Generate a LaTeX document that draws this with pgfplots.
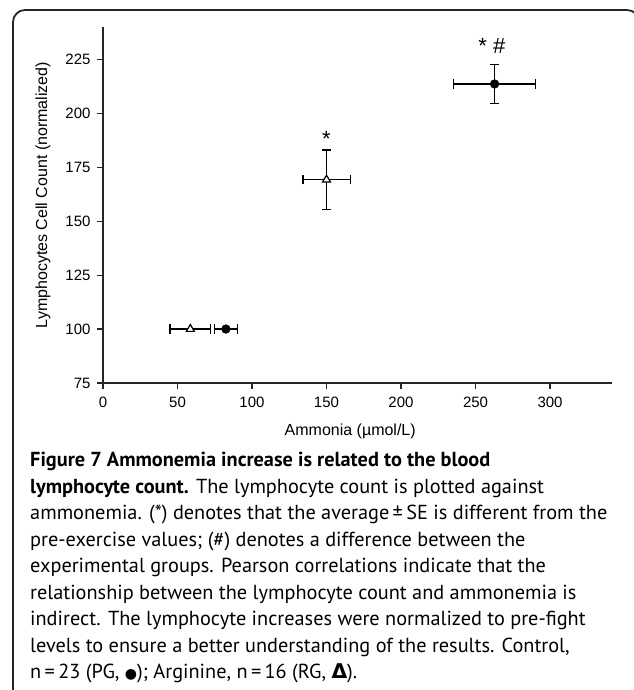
\documentclass[border=0pt]{standalone}
\usepackage{pgfplots}
\pgfplotsset{compat=1.18}
\usepackage{fontspec}
\setmainfont{Liberation Sans}
\newfontfamily\capfont{PT Sans}
\newfontfamily\symfont{DejaVu Sans}
\begin{document}
\begin{tikzpicture}
\useasboundingbox (0pt,0pt) rectangle (633pt,690pt);
% frame
\draw[line width=1.8pt, black!85, rounded corners=12pt] (13pt,-30pt) -- (13pt,680pt) -- (639pt,680pt) -- (639pt,-30pt);
\begin{axis}[
  at={(103pt,307pt)}, anchor=south west,
  scale only axis, width=508.7pt, height=356pt,
  xmin=0, xmax=341.4, ymin=75, ymax=240,
  axis lines=left,
  axis line style={-, line width=1.4pt, black!85},
  xtick={0,50,...,300}, ytick={75,100,...,225},
  tick align=outside, major tick length=6pt,
  tick style={line width=1.2pt, black!85},
  /pgf/number format/assume math mode=true,
  tick label style={font=\fontsize{15}{17}\selectfont},
  xticklabel style={yshift=-4pt},
  yticklabel style={xshift=-3pt},
  label style={font=\fontsize{16}{18}\selectfont},
  xlabel={Ammonia (µmol/L)},
  ylabel={Lymphocytes Cell Count (normalized)},
  xlabel style={at={(axis description cs:0.486,0)}, anchor=center, yshift=-48pt},
  ylabel style={at={(axis description cs:-0.118,0.528)}, anchor=center},
  clip=false,
  error bars/error bar style={line width=1.4pt, black},
  error bars/error mark options={rotate=90, line width=1.4pt, black, mark size=4.6pt},
]
% Arginine (RG, triangle)
\addplot[only marks, mark=triangle*, mark size=4.6pt, mark options={fill=white, draw=black, line width=1.2pt},
  error bars/.cd, x dir=both, x explicit, y dir=both, y explicit]
  table[x=x, y=y, x error=ex, y error=ey] {
x y ex ey
58.6 100 13.7 0
150 169.2 15.9 13.7
};
% Control (PG, circle)
\addplot[only marks, mark=*, mark size=4.4pt, mark options={fill=black, draw=black},
  error bars/.cd, x dir=both, x explicit, y dir=both, y explicit]
  table[x=x, y=y, x error=ex, y error=ey] {
x y ex ey
82.5 100 7.8 0
262.8 213.6 27.5 9.1
};
\node[anchor=base, font=\fontsize{22}{24}\selectfont] at (axis cs:150,184.5) {*};
\node[anchor=base, font=\fontsize{22}{24}\selectfont] at (axis cs:261,227.5) {* \#};
\end{axis}
% caption
\begin{scope}[every node/.style={anchor=base west, inner sep=0pt, font=\capfont\fontsize{20.3}{24}\selectfont}]
\node at (30pt,223pt) {\bfseries Figure 7 Ammonemia increase is related to the blood};
\node at (30pt,196.5pt) {\textbf{lymphocyte count.} The lymphocyte count is plotted against};
\node at (30pt,170pt) {ammonemia. (*) denotes that the average\,±\,SE is different from the};
\node at (30pt,143.5pt) {pre-exercise values; (\#) denotes a difference between the};
\node at (30pt,117pt) {experimental groups. Pearson correlations indicate that the};
\node at (30pt,90.5pt) {relationship between the lymphocyte count and ammonemia is};
\node at (30pt,64pt) {indirect. The lymphocyte increases were normalized to pre-fight};
\node at (30pt,37.5pt) {levels to ensure a better understanding of the results. Control,};
\node at (30pt,11pt) {n\,=\,23 (PG, {\symfont\fontsize{14}{16}\selectfont\raisebox{1pt}{●}}); Arginine, n\,=\,16 (RG, {\symfont\bfseries Δ}).};
\end{scope}
\end{tikzpicture}
\end{document}
